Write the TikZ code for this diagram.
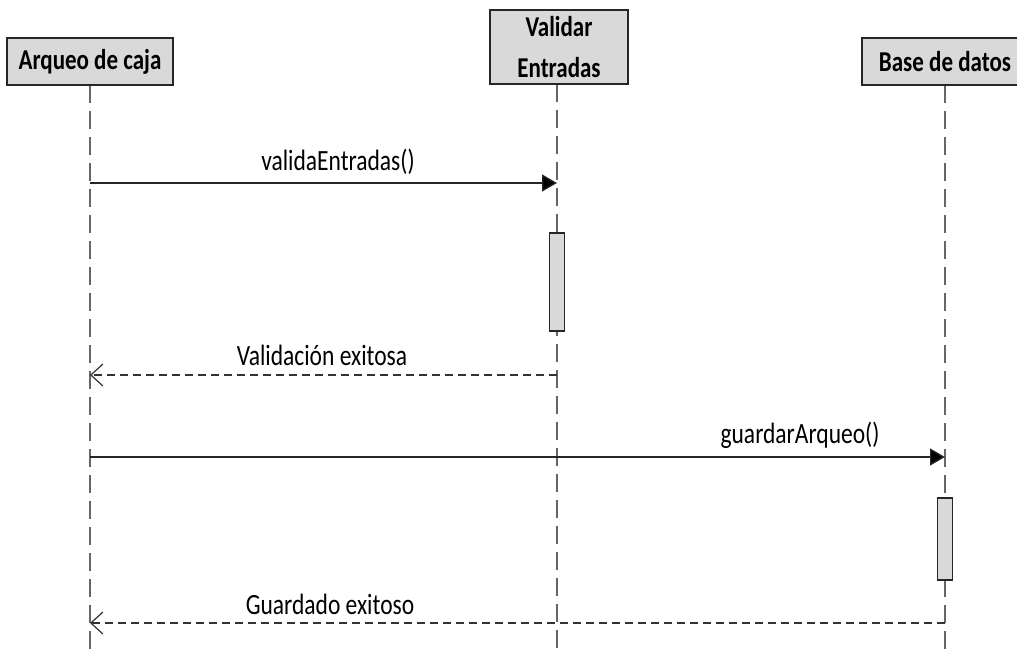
\documentclass[tikz,border=0pt]{standalone}
\usepackage{fontspec}
\setmainfont{Carlito}
\usepackage{graphicx}
\usetikzlibrary{arrows.meta}
\newcommand\tall[1]{\scalebox{1}[1.25]{#1}}

\begin{document}
\begin{tikzpicture}[x=1pt, y=-1pt,
  actor/.style={draw=black!85, line width=1.4pt, fill=black!15, minimum width=166pt, inner sep=0pt, font=\fontsize{23}{41}\selectfont\bfseries, align=center},
  life/.style={draw=black!60, line width=1.2pt, dash pattern=on 18pt off 8pt},
  act/.style={draw=black!85, line width=1.2pt, fill=black!15, minimum width=15pt, inner sep=0pt},
  call/.style={draw=black!85, line width=1.3pt, -{Triangle[length=15pt,width=17pt,fill=black]}},
  reply/.style={draw=black!80, line width=1.2pt, dash pattern=on 8pt off 5pt, -{Straight Barb[length=12pt,width=22pt,line width=1.2pt]}},
  msg/.style={font=\fontsize{23.5}{28}\selectfont, inner sep=0pt}]
 \useasboundingbox (0,0) rectangle (1017,652);
 \coordinate (arqueoend) at (90,652);
 \coordinate (validarend) at (557,652);
 \coordinate (baseend) at (945,652);
 \draw[life] (90,85) -- (arqueoend);
 \draw[life] (557,84) -- (validarend);
 \draw[life] (945,85) -- (baseend);

 \node[actor, minimum height=47pt] (arqueo) at (90,61.5) {\tall{Arqueo de caja}};
 \node[actor, minimum width=138pt, minimum height=74pt] (validar) at (559,47) {\tall{Validar}\\\tall{Entradas}};
 \node[actor, minimum height=47pt] (base) at (945,61.5) {\tall{Base de datos}};

 \node[act, minimum height=98pt] (validaract) at (557,282) {};
 \node[act, minimum height=82pt] (baseact) at (945,539) {};

 \coordinate (a1) at (90,183);  \coordinate (v1) at (557,183);
 \coordinate (v2) at (557,375); \coordinate (a2) at (90,375);
 \coordinate (a3) at (90,457);  \coordinate (b3) at (945,457);
 \coordinate (b4) at (945,623); \coordinate (a4) at (90,623);

 \draw[call] (a1) -- (v1);
 \draw[reply] (v2) -- (a2);
 \draw[call] (a3) -- (b3);
 \draw[reply] (b4) -- (a4);

 \node[msg] (m1) at (338,162) {\tall{validaEntradas()}};
 \node[msg] (m2) at (322,355) {\tall{Validación exitosa}};
 \node[msg] (m3) at (800,435) {\tall{guardarArqueo()}};
 \node[msg] (m4) at (330,604) {\tall{Guardado exitoso}};
\end{tikzpicture}
\end{document}
